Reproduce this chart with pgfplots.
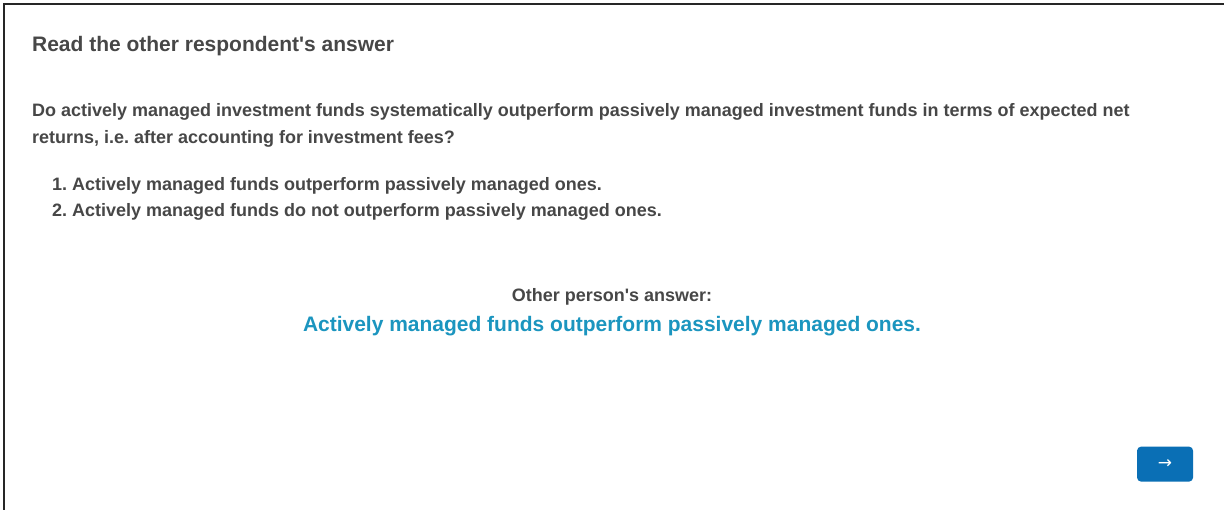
\documentclass[border=0pt]{standalone}
\usepackage{pgfplots}
\pgfplotsset{compat=1.18}
\usepackage{fontspec}
\setmainfont{Liberation Sans}
\newfontfamily\arrowfont{DejaVu Sans}
\definecolor{txt}{HTML}{474747}
\definecolor{ansblue}{HTML}{1B95BF}
\definecolor{btnblue}{HTML}{0A6FB5}
\frenchspacing
\newcommand{\q}{\textquotesingle}
\begin{document}
\begin{tikzpicture}
\begin{axis}[width=1225pt,height=510pt,scale only axis,
  xmin=0,xmax=1225,ymin=0,ymax=510,y dir=reverse,
  hide axis,clip=false]
\fill[white] (axis cs:0,0) rectangle (axis cs:1225,510);
\addplot[black!85, line width=2pt, mark=none] coordinates {(4.5,510) (4.5,4.5) (1225,4.5)};
% title
\node[anchor=base west,inner sep=0,text=txt,font=\fontsize{21}{25}\selectfont\bfseries] at (axis cs:32,52) {Read the other respondent\q s answer};
% question
\node[anchor=base west,inner sep=0,text=txt,font=\fontsize{18}{21}\selectfont\bfseries] at (axis cs:32,117) {Do actively managed investment funds systematically outperform passively managed investment funds in terms of expected net};
\node[anchor=base west,inner sep=0,text=txt,font=\fontsize{18}{21}\selectfont\bfseries] at (axis cs:32,144) {returns, i.e. after accounting for investment fees?};
% options
\node[anchor=base west,inner sep=0,text=txt,font=\fontsize{18}{21}\selectfont\bfseries] at (axis cs:52,191) {1. Actively managed funds outperform passively managed ones.};
\node[anchor=base west,inner sep=0,text=txt,font=\fontsize{18}{21}\selectfont\bfseries] at (axis cs:52,217) {2. Actively managed funds do not outperform passively managed ones.};
% other answer
\node[anchor=base,inner sep=0,text=txt,font=\fontsize{18}{21}\selectfont\bfseries] at (axis cs:612.5,302) {Other person\q s answer:};
\node[anchor=base,inner sep=0,text=ansblue,font=\fontsize{21}{25}\selectfont\bfseries] at (axis cs:612.5,332) {Actively managed funds outperform passively managed ones.};
% button
\fill[btnblue,rounded corners=4pt] (axis cs:1138,447) rectangle (axis cs:1194,482);
\node[inner sep=0,text=white,font=\fontsize{17}{18}\selectfont\arrowfont] at (axis cs:1166,464.5) {→};
\end{axis}
\end{tikzpicture}
\end{document}
